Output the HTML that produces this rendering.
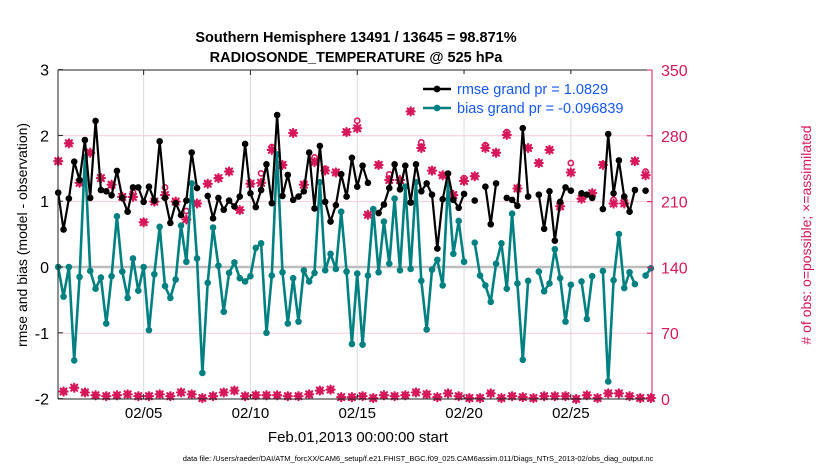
<!DOCTYPE html>
<html><head><meta charset="utf-8"><style>
body{margin:0;background:#fff;}
svg{display:block;font-family:"Liberation Sans",Arial,sans-serif;}
</style></head><body>
<svg id="chart" width="830" height="470" viewBox="0 0 830 470" xmlns="http://www.w3.org/2000/svg">
<rect width="830" height="470" fill="#fff"/>
<text x="356" y="42" text-anchor="middle" font-size="14.5" font-weight="bold">Southern Hemisphere 13491 / 13645 = 98.871%</text>
<text x="356" y="62" text-anchor="middle" font-size="14.5" font-weight="bold">RADIOSONDE_TEMPERATURE @ 525 hPa</text>
<g id="grid"></g>
<g id="marks"></g>
<g id="axes"></g>
<text transform="translate(27,235) rotate(-90)" text-anchor="middle" font-size="14">rmse and bias (model - observation)</text>
<text transform="translate(811,235) rotate(-90)" text-anchor="middle" font-size="14" fill="#d6185a"># of obs: o=possible; ×=assimilated</text>
<text x="358" y="442" text-anchor="middle" font-size="15">Feb.01,2013 00:00:00 start</text>
<text x="418" y="461" text-anchor="middle" font-size="7.5">data file: /Users/raeder/DAI/ATM_forcXX/CAM6_setup/f.e21.FHIST_BGC.f09_025.CAM6assim.011/Diags_NTrS_2013-02/obs_diag_output.nc</text>
<g id="legend"></g>
</svg>
<script>
const xTickDays=[4,9,14,19,24];
const xTickLabels=["02/05","02/10","02/15","02/20","02/25"];
const yTicks=[-2,-1,0,1,2,3];
const y2Ticks=[0,70,140,210,280,350];
const rmse=[1.13,0.57,1.04,1.60,1.32,1.93,1.05,2.22,1.17,1.15,1.09,1.46,1.05,0.84,1.21,1.21,0.99,1.22,1.01,1.91,1.05,0.67,0.97,0.79,1.01,1.74,1.20,null,1.08,0.74,1.05,0.87,1.01,0.92,1.07,1.87,1.12,0.91,1.17,1.56,0.97,2.31,1.08,1.40,1.02,1.07,1.15,1.74,0.89,1.84,0.99,0.69,0.94,1.41,1.07,1.66,1.22,1.54,1.28,null,0.82,0.95,1.20,1.56,1.18,1.54,0.98,1.56,1.15,1.27,1.10,0.28,1.03,1.42,1.02,0.90,1.11,null,1.01,null,1.22,0.65,1.27,null,1.05,1.02,0.93,2.11,1.07,null,1.10,0.58,1.15,0.40,0.99,1.21,1.16,null,1.12,1.10,1.05,null,0.88,2.02,1.12,1.62,1.07,0.84,1.17,null,1.16,null];
const bias=[0.0,-0.45,0.0,-1.42,-0.15,1.67,-0.06,-0.33,-0.16,-0.86,-0.14,0.77,-0.07,-0.47,0.13,-0.36,0.0,-0.96,-0.11,0.61,-0.29,-0.47,-0.19,0.63,0.08,1.27,0.13,-1.61,-0.24,0.60,0.02,-0.68,-0.09,0.07,-0.17,-0.22,-0.14,0.29,0.36,-1.00,-0.13,1.71,-0.08,-0.86,-0.17,-0.83,-0.05,-0.22,-0.09,1.29,-0.05,0.20,-0.03,0.84,-0.07,-1.17,-0.10,-1.18,-0.13,0.88,-0.08,0.69,0.05,1.04,-0.05,1.22,-0.03,1.29,-0.21,-0.95,-0.04,0.11,-0.28,1.26,0.20,0.70,0.08,null,0.37,-0.13,-0.28,-0.53,0.05,0.36,-0.33,0.81,-0.25,-1.41,-0.21,null,-0.07,-0.37,-0.25,0.27,-0.17,-0.83,-0.27,null,-0.22,-0.79,-0.14,null,-0.06,-1.74,-0.20,0.50,-0.32,-0.08,-0.26,null,-0.13,-0.02];
const nAssim=[253,8,272,12,230,7,262,4,235,3,228,4,215,5,215,3,188,3,210,5,217,3,210,7,191,5,208,1,229,3,235,7,242,9,201,3,229,4,230,4,265,4,249,3,283,3,228,5,252,9,243,10,241,2,284,2,288,3,196,1,249,4,233,3,233,4,306,7,267,5,243,2,238,6,217,3,232,1,237,1,267,6,262,1,281,3,224,2,267,1,251,3,265,3,205,3,241,0,213,4,219,1,249,6,208,6,208,3,253,1,238,1];
const nPoss=[253,8,272,12,230,7,262,4,235,3,228,4,215,5,220,3,188,3,210,5,225,3,210,7,200,5,208,1,229,3,235,7,242,9,201,3,229,4,240,4,268,4,249,3,283,3,228,5,257,9,245,10,241,2,284,2,296,3,196,1,249,4,239,3,233,4,306,7,273,5,243,2,238,6,217,3,235,1,237,1,270,6,262,1,284,3,224,2,267,1,251,3,265,3,205,3,251,0,213,4,219,1,250,6,212,6,212,3,253,1,242,1];
const times=[];for(let i=0;i<rmse.length;i++)times.push(i*0.25);

const L=58,R=652,T=70,B=399;
const x=d=>58.2+d*21.36;
const y=v=>267-v*65.8;
const y2=c=>B-c*329/350;
const NS="http://www.w3.org/2000/svg";
const MAG="#d6185a",TEAL="#008080";
function mk(tag,attrs,parent){const e=document.createElementNS(NS,tag);for(const k in attrs)e.setAttribute(k,attrs[k]);parent.appendChild(e);return e;}
const grid=document.getElementById('grid'),marks=document.getElementById('marks'),axes=document.getElementById('axes'),legend=document.getElementById('legend');

// grid
xTickDays.forEach((d,k)=>{const l=mk('line',{x1:x(d),x2:x(d),y1:T,y2:B,stroke:'#dcdcdc','stroke-width':1},grid);

});
y2Ticks.forEach(c=>{if(c===0||c===350)return;const l=mk('line',{x1:L,x2:R,y1:y2(c),y2:y2(c),stroke:'#f6c9d8','stroke-width':1},grid);

});
const zl=mk('line',{x1:L,x2:R,y1:y(0),y2:y(0),stroke:'#bdbdbd','stroke-width':2.5},grid);



// obs count markers
function star(cx,cy,name){const g=mk('g',{stroke:MAG,'stroke-width':2.2,'stroke-linecap':'round'},marks);


mk('line',{x1:cx-4,x2:cx+4,y1:cy,y2:cy},g);mk('line',{x1:cx,x2:cx,y1:cy-4,y2:cy+4},g);
mk('line',{x1:cx-3,x2:cx+3,y1:cy-3,y2:cy+3},g);mk('line',{x1:cx-3,x2:cx+3,y1:cy+3,y2:cy-3},g);}
nPoss.forEach((c,i)=>{const e=mk('circle',{cx:x(times[i]),cy:y2(c),r:2.6,fill:'none',stroke:MAG,'stroke-width':1.6},marks);

});
nAssim.forEach((c,i)=>star(x(times[i]),y2(c),'obs-assimilated-marker'));

// series lines
function series(vals,color,name,w){let d='';let pen=false;
vals.forEach((v,i)=>{if(v===null){pen=false;return;}d+=(pen?'L':'M')+x(times[i]).toFixed(1)+','+y(v).toFixed(1);pen=true;});
const p=mk('path',{d:d,fill:'none',stroke:color,'stroke-width':w,'stroke-linejoin':'round'},marks);


vals.forEach((v,i)=>{if(v===null)return;const c=mk('circle',{cx:x(times[i]),cy:y(v),r:3.3,fill:color},marks);

});}
series(bias,TEAL,'bias',2.6);
series(rmse,'#000','rmse',2.2);

// axes
const fr=[['line',{x1:L,x2:L,y1:T,y2:B,stroke:'#222'},'left-axis'],['line',{x1:L,x2:R,y1:B,y2:B,stroke:'#222'},'bottom-axis'],['line',{x1:L,x2:R,y1:T,y2:T,stroke:'#222'},'top-axis'],['line',{x1:R,x2:R,y1:T,y2:B,stroke:MAG},'right-axis']];
fr.forEach(f=>{const e=mk(f[0],Object.assign({'stroke-width':1},f[1]),axes);

});
yTicks.forEach(v=>{mk('line',{x1:L,x2:L+5,y1:y(v),y2:y(v),stroke:'#222'},axes);
const t=mk('text',{x:L-9,y:y(v)+6,'text-anchor':'end','font-size':16},axes);t.textContent=String(v).replace('-','-');

});
y2Ticks.forEach(c=>{mk('line',{x1:R-5,x2:R,y1:y2(c),y2:y2(c),stroke:MAG},axes);
const t=mk('text',{x:R+9,y:y2(c)+6,'font-size':16,fill:MAG},axes);t.textContent=c;

});
xTickDays.forEach((d,k)=>{mk('line',{x1:x(d),x2:x(d),y1:B,y2:B-5,stroke:'#222'},axes);mk('line',{x1:x(d),x2:x(d),y1:T,y2:T+5,stroke:'#222'},axes);
const t=mk('text',{x:x(d),y:418,'text-anchor':'middle','font-size':15},axes);t.textContent=xTickLabels[k];

});

// legend
mk('rect',{x:418,y:74,width:232,height:44,fill:'#fff'},legend);
[['rmse grand pr = 1.0829','#000',89],['bias grand pr = -0.096839',TEAL,108]].forEach(e=>{
mk('line',{x1:423,x2:451,y1:e[2],y2:e[2],stroke:e[1],'stroke-width':2.4},legend);
mk('circle',{cx:437,cy:e[2],r:3.4,fill:e[1]},legend);
const t=mk('text',{x:457,y:e[2]+5,'font-size':14.5,fill:'#1558f0'},legend);t.textContent=e[0];

});
</script>
</body></html>
